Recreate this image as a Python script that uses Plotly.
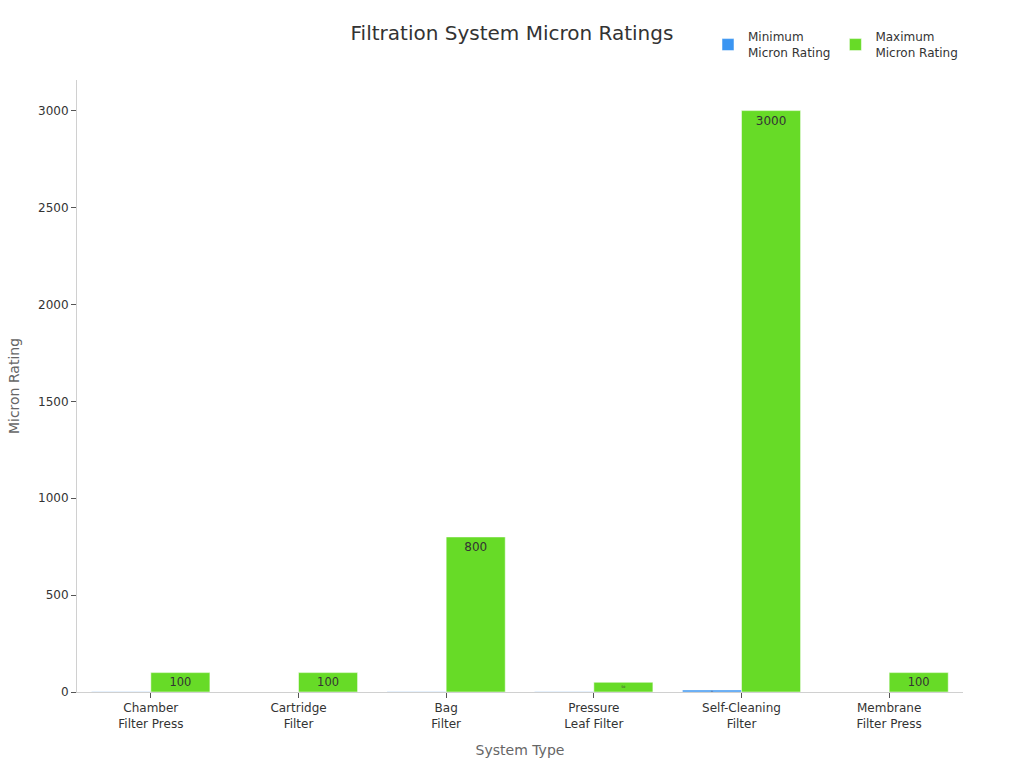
import plotly.graph_objects as go

categories = ["Chamber<br>Filter Press", "Cartridge<br>Filter", "Bag<br>Filter",
              "Pressure<br>Leaf Filter", "Self-Cleaning<br>Filter", "Membrane<br>Filter Press"]
min_rating = [1, 0.5, 1, 1, 10, 0.1]
max_rating = [100, 100, 800, 50, 3000, 100]

font_family = "DejaVu Sans, Verdana, sans-serif"

fig = go.Figure()
fig.add_trace(go.Bar(
    name="Minimum<br>Micron Rating", x=categories, y=min_rating,
    marker=dict(color="#3a95f2", line=dict(color="rgba(255,255,255,0.5)", width=1)),
    text=min_rating, textposition="inside", insidetextanchor="end",
    textfont=dict(color="#333333", size=12),
))
fig.add_trace(go.Bar(
    name="Maximum<br>Micron Rating", x=categories, y=max_rating,
    marker=dict(color="#67db27", line=dict(color="rgba(255,255,255,0.5)", width=1)),
    text=max_rating, textposition="inside", insidetextanchor="end",
    textfont=dict(color="#333333", size=12),
))

fig.update_layout(
    width=1024, height=768,
    barmode="group", bargap=0.2, bargroupgap=0,
    paper_bgcolor="white", plot_bgcolor="white",
    font=dict(family=font_family, color="#333333", size=12),
    title=dict(text="Filtration System Micron Ratings", x=0.5, xanchor="center",
               y=0.957, yanchor="middle", font=dict(size=20, color="#333333")),
    margin=dict(l=77, r=61, t=80, b=76, autoexpand=False),
    uniformtext=dict(mode=False),
    legend=dict(orientation="h", x=1, xanchor="right",
                yref="container", y=1 - 45 / 768, yanchor="middle",
                font=dict(size=12, color="#333333"), bgcolor="rgba(0,0,0,0)"),
    xaxis=dict(title=dict(text="System Type", font=dict(size=14, color="#666666"), standoff=15),
               showline=True, linecolor="#d0d0d0", linewidth=1,
               ticks="outside", ticklen=5, tickcolor="#555555",
               showgrid=False, tickfont=dict(size=12, color="#333333")),
    yaxis=dict(title=dict(text="Micron Rating", font=dict(size=14, color="#666666"), standoff=15),
               showline=True, linecolor="#d0d0d0", linewidth=1,
               ticks="outside", ticklen=5, tickcolor="#555555",
               showgrid=False, zeroline=False, tickfont=dict(size=12, color="#333333"),
               rangemode="tozero"),
)

fig.write_html("out.html")
